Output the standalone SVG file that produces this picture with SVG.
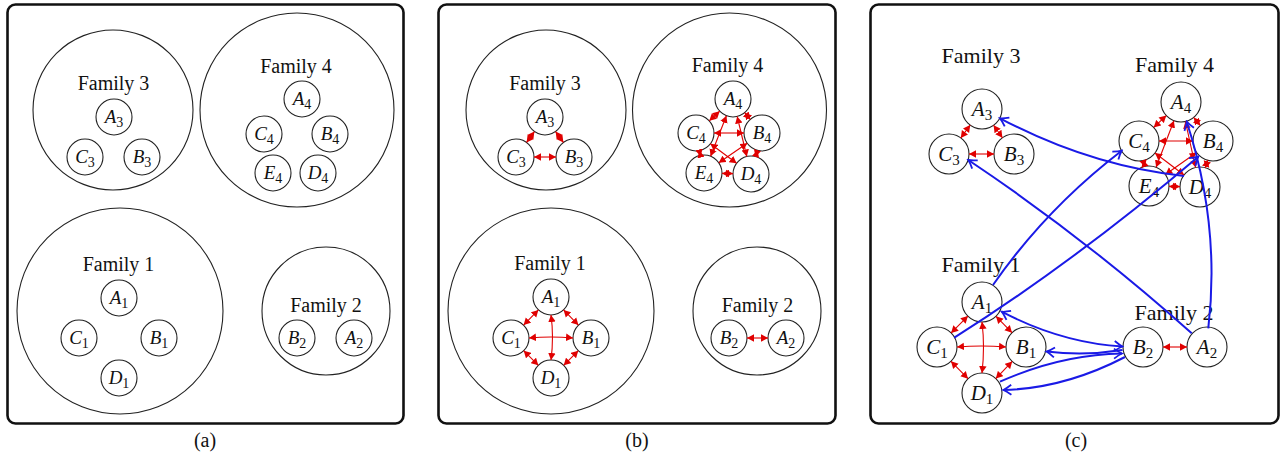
<svg xmlns="http://www.w3.org/2000/svg" width="1285" height="456" viewBox="0 0 1285 456">
<style>
.frame{fill:none;stroke:#111;stroke-width:2.6}
.fam{fill:none;stroke:#222;stroke-width:1.1}
.node{fill:none;stroke:#222;stroke-width:1.1}
.lbl{font-family:"Liberation Serif","Times New Roman",serif;font-style:italic;font-size:19px;text-anchor:middle;fill:#111}
.lblc{font-family:"Liberation Serif","Times New Roman",serif;font-style:italic;font-size:21px;text-anchor:middle;fill:#111}
.sub{font-style:normal;font-size:14px}
.subc{font-style:normal;font-size:15px}
.ft{font-family:"Liberation Serif","Times New Roman",serif;font-size:20px;text-anchor:middle;fill:#111}
.ftc{font-family:"Liberation Serif","Times New Roman",serif;font-size:22px;text-anchor:middle;fill:#111}
.cap{font-family:"Liberation Serif","Times New Roman",serif;font-size:20px;text-anchor:middle;fill:#111}
.red{stroke:#e00000;stroke-width:1.1;fill:none;marker-start:url(#rh);marker-end:url(#rh)}
.blue{stroke:#1a1ae6;stroke-width:2;fill:none;marker-end:url(#bh)}
.blue2{stroke:#1a1ae6;stroke-width:2;fill:none;marker-start:url(#bh);marker-end:url(#bh)}
</style>
<defs>
<marker id="rh" viewBox="0 -4 7 8" refX="7" refY="0" markerWidth="7" markerHeight="8" orient="auto-start-reverse" markerUnits="userSpaceOnUse"><path d="M0,-3.8 L7,0 L0,3.8 z" fill="#e00000"/></marker>
<marker id="bh" viewBox="-10 -7 12 14" refX="0" refY="0" markerWidth="12" markerHeight="14" orient="auto-start-reverse" markerUnits="userSpaceOnUse"><path d="M-8,-5 Q-3,-1.2 0,0 Q-3,1.2 -8,5" fill="none" stroke="#1a1ae6" stroke-width="1.8"/></marker>
</defs>
<rect width="1285" height="456" fill="#fff"/>

<!-- frames -->
<rect class="frame" x="7.5" y="4.5" width="396" height="419" rx="8"/>
<rect class="frame" x="438.5" y="4.5" width="397" height="419" rx="8"/>
<rect class="frame" x="870.5" y="4.5" width="408" height="419" rx="8"/>
<text class="cap" x="205" y="447">(a)</text>
<text class="cap" x="637" y="447">(b)</text>
<text class="cap" x="1076" y="447">(c)</text>

<!-- ===== Panel (a) ===== -->
<g id="a-family3"><circle class="fam" cx="113" cy="110" r="80"/><text class="ft" x="113.5" y="90">Family 3</text></g>
<g id="a-family4"><circle class="fam" cx="297" cy="110" r="97"/><text class="ft" x="296" y="73">Family 4</text></g>
<g id="a-family1"><circle class="fam" cx="120" cy="311" r="103"/><text class="ft" x="118.5" y="271">Family 1</text></g>
<g id="a-family2"><circle class="fam" cx="326" cy="311" r="64"/><text class="ft" x="326" y="312">Family 2</text></g>

<g id="a-A3"><circle class="node" cx="114" cy="117" r="18"/><text class="lbl" x="114" y="123">A<tspan class="sub" dy="4">3</tspan></text></g>
<g id="a-C3"><circle class="node" cx="85" cy="157" r="18"/><text class="lbl" x="85" y="163">C<tspan class="sub" dy="4">3</tspan></text></g>
<g id="a-B3"><circle class="node" cx="142" cy="157" r="18"/><text class="lbl" x="142" y="163">B<tspan class="sub" dy="4">3</tspan></text></g>
<g id="a-A4"><circle class="node" cx="302" cy="99" r="18"/><text class="lbl" x="302" y="105">A<tspan class="sub" dy="4">4</tspan></text></g>
<g id="a-C4"><circle class="node" cx="264" cy="134" r="18"/><text class="lbl" x="264" y="140">C<tspan class="sub" dy="4">4</tspan></text></g>
<g id="a-B4"><circle class="node" cx="330" cy="134" r="18"/><text class="lbl" x="330" y="140">B<tspan class="sub" dy="4">4</tspan></text></g>
<g id="a-E4"><circle class="node" cx="273" cy="173" r="18"/><text class="lbl" x="273" y="179">E<tspan class="sub" dy="4">4</tspan></text></g>
<g id="a-D4"><circle class="node" cx="318" cy="173" r="18"/><text class="lbl" x="318" y="179">D<tspan class="sub" dy="4">4</tspan></text></g>
<g id="a-A1"><circle class="node" cx="119" cy="298" r="18"/><text class="lbl" x="119" y="304">A<tspan class="sub" dy="4">1</tspan></text></g>
<g id="a-C1"><circle class="node" cx="79" cy="338" r="18"/><text class="lbl" x="79" y="344">C<tspan class="sub" dy="4">1</tspan></text></g>
<g id="a-B1"><circle class="node" cx="159" cy="338" r="18"/><text class="lbl" x="159" y="344">B<tspan class="sub" dy="4">1</tspan></text></g>
<g id="a-D1"><circle class="node" cx="119" cy="378" r="18"/><text class="lbl" x="119" y="384">D<tspan class="sub" dy="4">1</tspan></text></g>
<g id="a-B2"><circle class="node" cx="297" cy="338" r="18"/><text class="lbl" x="297" y="344">B<tspan class="sub" dy="4">2</tspan></text></g>
<g id="a-A2"><circle class="node" cx="354" cy="338" r="18"/><text class="lbl" x="354" y="344">A<tspan class="sub" dy="4">2</tspan></text></g>

<!-- ===== Panel (b) ===== -->
<g id="b-family3"><circle class="fam" cx="546" cy="110" r="80"/><text class="ft" x="545" y="90">Family 3</text></g>
<g id="b-family4"><circle class="fam" cx="729.5" cy="110" r="97"/><text class="ft" x="727.5" y="72">Family 4</text></g>
<g id="b-family1"><circle class="fam" cx="551" cy="311" r="103"/><text class="ft" x="550" y="270">Family 1</text></g>
<g id="b-family2"><circle class="fam" cx="757" cy="311" r="64"/><text class="ft" x="757.5" y="312">Family 2</text></g>

<g id="b-A3"><circle class="node" cx="545" cy="117" r="18"/><text class="lbl" x="545" y="123">A<tspan class="sub" dy="4">3</tspan></text></g>
<g id="b-C3"><circle class="node" cx="516" cy="157" r="18"/><text class="lbl" x="516" y="163">C<tspan class="sub" dy="4">3</tspan></text></g>
<g id="b-B3"><circle class="node" cx="574" cy="157" r="18"/><text class="lbl" x="574" y="163">B<tspan class="sub" dy="4">3</tspan></text></g>
<g id="b-A4"><circle class="node" cx="733" cy="99" r="18"/><text class="lbl" x="733" y="105">A<tspan class="sub" dy="4">4</tspan></text></g>
<g id="b-C4"><circle class="node" cx="696" cy="133" r="18"/><text class="lbl" x="696" y="139">C<tspan class="sub" dy="4">4</tspan></text></g>
<g id="b-B4"><circle class="node" cx="762" cy="133" r="18"/><text class="lbl" x="762" y="139">B<tspan class="sub" dy="4">4</tspan></text></g>
<g id="b-E4"><circle class="node" cx="704" cy="173" r="18"/><text class="lbl" x="704" y="179">E<tspan class="sub" dy="4">4</tspan></text></g>
<g id="b-D4"><circle class="node" cx="751" cy="174" r="18"/><text class="lbl" x="751" y="180">D<tspan class="sub" dy="4">4</tspan></text></g>
<g id="b-A1"><circle class="node" cx="551" cy="297" r="18"/><text class="lbl" x="551" y="303">A<tspan class="sub" dy="4">1</tspan></text></g>
<g id="b-C1"><circle class="node" cx="511" cy="338" r="18"/><text class="lbl" x="511" y="344">C<tspan class="sub" dy="4">1</tspan></text></g>
<g id="b-B1"><circle class="node" cx="591" cy="338" r="18"/><text class="lbl" x="591" y="344">B<tspan class="sub" dy="4">1</tspan></text></g>
<g id="b-D1"><circle class="node" cx="551" cy="378" r="18"/><text class="lbl" x="551" y="384">D<tspan class="sub" dy="4">1</tspan></text></g>
<g id="b-B2"><circle class="node" cx="729" cy="338" r="18"/><text class="lbl" x="729" y="344">B<tspan class="sub" dy="4">2</tspan></text></g>
<g id="b-A2"><circle class="node" cx="786" cy="338" r="18"/><text class="lbl" x="786" y="344">A<tspan class="sub" dy="4">2</tspan></text></g>

<!-- ===== Panel (c) ===== -->
<g id="c-family3"><text class="ftc" x="981" y="63">Family 3</text></g>
<g id="c-family4"><text class="ftc" x="1174.5" y="72">Family 4</text></g>
<g id="c-family1"><text class="ftc" x="981" y="272">Family 1</text></g>
<g id="c-family2"><text class="ftc" x="1174" y="320">Family 2</text></g>

<g id="c-A3"><circle class="node" cx="982" cy="109" r="20"/><text class="lblc" x="982" y="116">A<tspan class="subc" dy="4">3</tspan></text></g>
<g id="c-C3"><circle class="node" cx="949" cy="154" r="20"/><text class="lblc" x="949" y="161">C<tspan class="subc" dy="4">3</tspan></text></g>
<g id="c-B3"><circle class="node" cx="1014" cy="154" r="20"/><text class="lblc" x="1014" y="161">B<tspan class="subc" dy="4">3</tspan></text></g>
<g id="c-A4"><circle class="node" cx="1181" cy="102" r="20"/><text class="lblc" x="1181" y="109">A<tspan class="subc" dy="4">4</tspan></text></g>
<g id="c-C4"><circle class="node" cx="1139" cy="141" r="20"/><text class="lblc" x="1139" y="148">C<tspan class="subc" dy="4">4</tspan></text></g>
<g id="c-B4"><circle class="node" cx="1213" cy="141" r="20"/><text class="lblc" x="1213" y="148">B<tspan class="subc" dy="4">4</tspan></text></g>
<g id="c-E4"><circle class="node" cx="1149" cy="186" r="20"/><text class="lblc" x="1149" y="193">E<tspan class="subc" dy="4">4</tspan></text></g>
<g id="c-D4"><circle class="node" cx="1200" cy="187" r="20"/><text class="lblc" x="1200" y="194">D<tspan class="subc" dy="4">4</tspan></text></g>
<g id="c-A1"><circle class="node" cx="982" cy="302" r="20"/><text class="lblc" x="982" y="309">A<tspan class="subc" dy="4">1</tspan></text></g>
<g id="c-C1"><circle class="node" cx="937" cy="347" r="20"/><text class="lblc" x="937" y="354">C<tspan class="subc" dy="4">1</tspan></text></g>
<g id="c-B1"><circle class="node" cx="1026" cy="347" r="20"/><text class="lblc" x="1026" y="354">B<tspan class="subc" dy="4">1</tspan></text></g>
<g id="c-D1"><circle class="node" cx="982" cy="393" r="20"/><text class="lblc" x="982" y="400">D<tspan class="subc" dy="4">1</tspan></text></g>
<g id="c-B2"><circle class="node" cx="1143" cy="347" r="20"/><text class="lblc" x="1143" y="354">B<tspan class="subc" dy="4">2</tspan></text></g>
<g id="c-A2"><circle class="node" cx="1207" cy="347" r="20"/><text class="lblc" x="1207" y="354">A<tspan class="subc" dy="4">2</tspan></text></g>

<!-- ===== Connectors ===== -->
<g id="connectors">
  <!-- panel b, red intra-family -->
  <line class="red" x1="534.4" y1="131.6" x2="526.6" y2="142.4"/>
  <line class="red" x1="555.6" y1="131.6" x2="563.4" y2="142.4"/>
  <line class="red" x1="534" y1="157" x2="556" y2="157"/>

  <line class="red" x1="719.7" y1="111.2" x2="709.3" y2="120.8"/>
  <line class="red" x1="744.7" y1="112.7" x2="750.3" y2="119.3"/>
  <line class="red" x1="726.4" y1="115.8" x2="710.6" y2="156.2"/>
  <line class="red" x1="737.2" y1="116.5" x2="746.8" y2="156.5"/>
  <line class="red" x1="714" y1="133" x2="744" y2="133"/>
  <line class="red" x1="699.2" y1="150.7" x2="700.8" y2="156.3"/>
  <line class="red" x1="710.4" y1="143.8" x2="736.6" y2="163.2"/>
  <line class="red" x1="747.2" y1="143.2" x2="718.8" y2="162.8"/>
  <line class="red" x1="757.5" y1="150.2" x2="755.5" y2="156.8"/>
  <line class="red" x1="722" y1="173.4" x2="733" y2="173.6"/>

  <line class="red" x1="538.4" y1="309.9" x2="523.6" y2="325.1"/>
  <line class="red" x1="563.6" y1="309.9" x2="578.4" y2="325.1"/>
  <line class="red" x1="523.7" y1="350.7" x2="538.3" y2="365.3"/>
  <line class="red" x1="578.3" y1="350.7" x2="563.7" y2="365.3"/>
  <path class="red" d="M529,338 Q551,336 573,338"/>
  <path class="red" d="M551,315 Q554,337 551,360"/>
  <line class="red" x1="747" y1="338" x2="768" y2="338"/>

  <!-- panel c, red intra-family -->
  <line class="red" x1="970.2" y1="125.1" x2="960.8" y2="137.9"/>
  <line class="red" x1="993.6" y1="125.3" x2="1002.4" y2="137.7"/>
  <line class="red" x1="969" y1="154" x2="994" y2="154"/>

  <line class="red" x1="1166.3" y1="115.6" x2="1153.7" y2="127.4"/>
  <line class="red" x1="1193.7" y1="117.5" x2="1200.3" y2="125.5"/>
  <line class="red" x1="1173.9" y1="120.7" x2="1156.1" y2="167.3"/>
  <line class="red" x1="1185.4" y1="121.5" x2="1195.6" y2="167.5"/>
  <line class="red" x1="1159" y1="141" x2="1193" y2="141"/>
  <line class="red" x1="1143" y1="160.2" x2="1145" y2="166.8"/>
  <line class="red" x1="1155" y1="153" x2="1184" y2="175"/>
  <line class="red" x1="1196.6" y1="152.5" x2="1165.4" y2="174.5"/>
  <line class="red" x1="1207.8" y1="160" x2="1205.2" y2="168"/>
  <line class="red" x1="1169" y1="186.4" x2="1180" y2="186.6"/>

  <line class="red" x1="967.9" y1="316.1" x2="951.1" y2="332.9"/>
  <line class="red" x1="996" y1="316.3" x2="1012" y2="332.7"/>
  <line class="red" x1="951" y1="361.3" x2="968" y2="378.7"/>
  <line class="red" x1="1012.2" y1="361.4" x2="995.8" y2="378.6"/>
  <path class="red" d="M957,347 Q981.5,345 1006,347"/>
  <path class="red" d="M982,322 Q985,347 982,373"/>
  <line class="red" x1="1163" y1="347" x2="1187" y2="347"/>

  <!-- panel c, blue inter-family -->
  <path class="blue" d="M993,285 Q1046,208.7 1121.7,150.7"/>
  <path class="blue" d="M954.3,337.7 Q1075.7,260.8 1198.3,156.7"/>
  <path class="blue" d="M1184,176 Q1090,166 1000,118.3"/>
  <path class="blue" d="M1191.7,333.3 Q1085,238 968.3,160"/>
  <path class="blue" d="M1208.3,328.3 Q1220.5,225 1186.7,121.7"/>
  <path class="blue2" d="M1001.7,311.7 Q1061.7,343 1122.5,346.5"/>
  <path class="blue" d="M1122.5,350 Q1085,356 1046.5,351.5"/>
  <path class="blue" d="M1000,381.7 Q1060.9,354.5 1122,353.5"/>
  <path class="blue" d="M1125,357 Q1064,388.6 1003.3,390"/>
</g>
</svg>
